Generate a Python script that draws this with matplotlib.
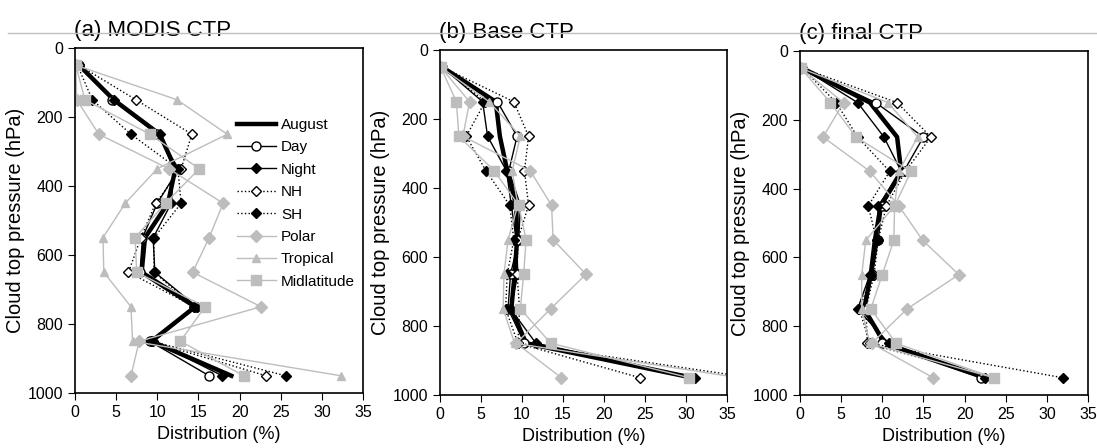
import matplotlib
matplotlib.use("Agg")
import matplotlib.pyplot as plt
from matplotlib.lines import Line2D

plt.rcParams['font.family'] = ['Liberation Sans', 'DejaVu Sans']

# pressure levels (hPa)
levels = [50, 150, 250, 350, 450, 550, 650, 750, 850, 950]
series_names = ['August', 'Day', 'Night', 'NH', 'SH', 'Polar', 'Tropical', 'Midlatitude']
panel_titles = ['(a) MODIS CTP', '(b) Base CTP', '(c) final CTP']

# (a) MODIS CTP
a_august = [0.5, 4.7, 10.3, 12.2, 11.3, 8.5, 8.1, 14.6, 9.3, 19.0]
a_day = [0.5, 4.5, 10.0, 12.6, 10.0, 8.2, 7.9, 14.7, 9.1, 16.3]
a_night = [0.5, 4.7, 10.3, 12.0, 11.7, 9.5, 9.7, 14.8, 9.5, 17.9]
a_nh = [0.5, 7.4, 14.2, 12.9, 9.8, 8.0, 6.5, 14.5, 9.2, 23.2]
a_sh = [0.3, 2.1, 6.8, 12.5, 12.9, 9.6, 9.6, 14.5, 9.3, 25.6]
a_polar = [0.1, 0.2, 2.9, 11.4, 18.0, 16.3, 14.3, 22.6, 7.8, 6.8]
a_tropical = [0.1, 12.4, 18.5, 10.0, 6.1, 3.4, 3.5, 6.8, 7.0, 32.3]
a_midlat = [0.1, 1.2, 9.1, 15.1, 11.0, 7.3, 7.5, 15.8, 12.8, 20.5]

# (b) Base CTP
b_august = [0.3, 6.8, 7.3, 8.2, 9.3, 9.4, 9.1, 8.7, 10.5, 30.8]
b_day = [0.3, 7.0, 9.4, 8.4, 9.8, 9.6, 8.6, 8.3, 10.3, 30.6]
b_night = [0.3, 5.2, 5.8, 8.1, 8.7, 9.3, 9.5, 8.6, 11.7, 31.1]
b_nh = [0.3, 9.0, 10.8, 10.3, 10.8, 9.5, 9.4, 9.7, 9.5, 24.4]
b_sh = [0.3, 5.5, 3.2, 5.6, 8.5, 9.0, 8.2, 8.0, 9.5, 38.0]
b_polar = [0.1, 3.6, 2.8, 11.0, 13.6, 13.8, 17.8, 13.5, 9.3, 14.8]
b_tropical = [0.1, 6.0, 9.8, 8.8, 9.5, 8.3, 7.8, 7.7, 9.1, 36.5]
b_midlat = [0.1, 2.0, 2.3, 6.6, 9.6, 10.5, 10.2, 9.8, 13.5, 30.4]

# (c) final CTP
c_august = [0.3, 8.5, 11.8, 12.3, 9.8, 9.1, 8.6, 7.8, 10.3, 22.5]
c_day = [0.3, 9.2, 15.0, 12.6, 10.0, 9.5, 8.8, 7.8, 10.0, 22.0]
c_night = [0.3, 7.0, 10.2, 12.3, 9.5, 9.4, 8.5, 7.0, 10.8, 22.5]
c_nh = [0.3, 11.8, 15.9, 12.8, 10.5, 9.5, 9.0, 8.0, 8.2, 23.5]
c_sh = [0.3, 4.4, 7.0, 10.9, 8.3, 9.3, 8.8, 7.2, 8.5, 32.0]
c_polar = [0.1, 5.3, 2.8, 8.5, 12.0, 14.9, 19.3, 13.0, 8.7, 16.2]
c_tropical = [0.1, 10.7, 14.3, 12.0, 11.5, 8.0, 7.5, 7.5, 8.5, 23.6]
c_midlat = [0.1, 3.7, 6.8, 13.5, 11.5, 11.4, 10.0, 8.6, 11.7, 23.6]

panels = [
    [a_august, a_day, a_night, a_nh, a_sh, a_polar, a_tropical, a_midlat],
    [b_august, b_day, b_night, b_nh, b_sh, b_polar, b_tropical, b_midlat],
    [c_august, c_day, c_night, c_nh, c_sh, c_polar, c_tropical, c_midlat],
]

gray = '#bdbdbd'
styles = [
    dict(color='black', lw=3.2, ls='-', marker=None),
    dict(color='black', lw=1.0, ls='-', marker='o', mfc='white', ms=6.5),
    dict(color='black', lw=1.0, ls='-', marker='D', mfc='black', ms=5.5),
    dict(color='black', lw=1.0, ls=':', marker='D', mfc='white', ms=5.5),
    dict(color='black', lw=1.0, ls=':', marker='D', mfc='black', ms=5.5),
    dict(color=gray, lw=1.0, ls='-', marker='D', mfc=gray, ms=6),
    dict(color=gray, lw=1.0, ls='-', marker='^', mfc=gray, ms=6),
    dict(color=gray, lw=1.0, ls='-', marker='s', mfc=gray, ms=6.5),
]

fig = plt.figure(figsize=(10.97, 4.48), dpi=100)
W, H = 1097.0, 448.0
boxes = [(75, 48, 363, 393), (440, 50, 727, 395), (800, 51, 1088, 395)]

for i, (l, t, r, b) in enumerate(boxes):
    ax = fig.add_axes([l / W, 1 - b / H, (r - l) / W, (b - t) / H])
    for name, vals, st in zip(series_names, panels[i], styles):
        ax.plot(vals, levels, color=st['color'], lw=st['lw'], ls=st['ls'],
                marker=st['marker'], mfc=st.get('mfc'), mec=st['color'],
                ms=st.get('ms', 0), label=name)
    ax.set_xlim(0, 35)
    ax.set_ylim(1000, 0)
    ax.set_xticks(range(0, 36, 5))
    ax.set_yticks(range(0, 1001, 200))
    ax.tick_params(direction='out', length=5, labelsize=11.5, top=False, right=False)
    ax.set_xlabel('Distribution (%)', fontsize=13)
    ax.set_ylabel('Cloud top pressure (hPa)', fontsize=14.5)
    ax.xaxis.set_label_coords(0.5, -0.095)
    ax.yaxis.set_label_coords(-0.175, 0.5)
    for sp in ax.spines.values():
        sp.set_linewidth(1.2)
    ax.text(-0.005, 1.035, panel_titles[i], transform=ax.transAxes,
            fontsize=16, va='baseline', ha='left')
    if i == 0:
        ax.legend(loc='upper left', bbox_to_anchor=(0.54, 0.815), frameon=False,
                  fontsize=11, handlelength=2.6, labelspacing=0.55,
                  handletextpad=0.3, borderaxespad=0)

fig.add_artist(Line2D([8 / W, 1], [1 - 33 / H, 1 - 33 / H], color='#c0c0c0', lw=1.0))

fig.savefig('out.png', dpi=100)
